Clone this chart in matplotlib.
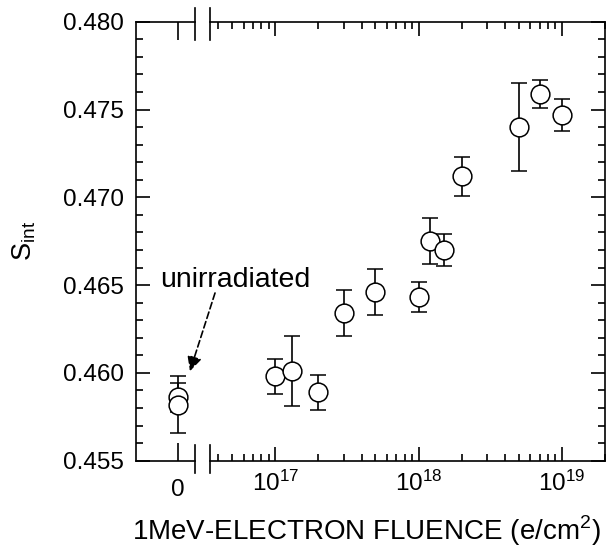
import numpy as np
import matplotlib
matplotlib.use('Agg')
import matplotlib.pyplot as plt
from matplotlib.ticker import FixedLocator, MultipleLocator, FormatStrFormatter, LogLocator, NullFormatter

plt.rcParams['font.family'] = ['Liberation Sans', 'DejaVu Sans']
plt.rcParams['mathtext.fontset'] = 'custom'
plt.rcParams['mathtext.rm'] = 'Liberation Sans'

# datos sin irradiar (fluencia 0)
fluencia_cero = [0, 0]
s_cero = [0.4586, 0.4582]
err_cero = [0.0008, 0.0016]

# datos irradiados (e/cm^2)
fluencia = [1e17, 1.3e17, 2e17, 3e17, 5e17, 1e18, 1.2e18, 1.5e18, 2e18, 5e18, 7e18, 1e19]
s_int = [0.4598, 0.4601, 0.4589, 0.4634, 0.4646, 0.4643, 0.4675, 0.4670, 0.4712, 0.4740, 0.4759, 0.4747]
err = [0.0010, 0.0020, 0.0010, 0.0013, 0.0013, 0.00085, 0.0013, 0.0009, 0.0011, 0.0025, 0.0008, 0.0009]

W, H = 616, 557
fig = plt.figure(figsize=(W/100, H/100), dpi=100)

top, bot = 21.7, 460.7
ax1 = fig.add_axes([136/W, 1-bot/H, (195-136)/W, (bot-top)/H])
ax2 = fig.add_axes([210/W, 1-bot/H, (605-210)/W, (bot-top)/H])
# el eje izquierdo arriba para que el texto no quede tapado
ax1.set_zorder(3)
ax1.patch.set_visible(False)

estilo = dict(fmt='o', ms=13.5, mfc='white', mec='black', mew=1.1, ecolor='black',
              elinewidth=1.2, capsize=5.5, capthick=1.2, color='black')
ax1.errorbar(fluencia_cero, s_cero, yerr=err_cero, **estilo)
ax2.errorbar(fluencia, s_int, yerr=err, **estilo)

ylo, yhi = 0.455, 0.480
for ax in (ax1, ax2):
    ax.set_ylim(ylo, yhi)
    ax.yaxis.set_major_locator(MultipleLocator(0.005))
    ax.yaxis.set_minor_locator(MultipleLocator(0.001))
    for s in ax.spines.values():
        s.set_linewidth(1.2)
    ax.tick_params(which='both', direction='in', width=1.2, top=True, bottom=True,
                   labelsize=17.5, colors='black')
    ax.tick_params(which='major', length=10)
    ax.tick_params(which='minor', length=5)

ax1.set_xlim(-1, 0.4)
ax1.xaxis.set_major_locator(FixedLocator([0]))
ax1.xaxis.set_minor_locator(FixedLocator([]))
ax1.spines['right'].set_visible(False)
ax1.tick_params(axis='y', which='both', left=True, right=False, pad=9)
ax1.tick_params(axis='x', which='major', length=13, pad=13)
ax1.yaxis.set_major_formatter(FormatStrFormatter('%.3f'))

ax2.set_xscale('log')
ax2.set_xlim(3.5e16, 2e19)
ax2.xaxis.set_major_locator(LogLocator(base=10, numticks=10))
ax2.xaxis.set_minor_locator(LogLocator(base=10, subs=np.arange(2, 10), numticks=20))
ax2.xaxis.set_minor_formatter(NullFormatter())
ax2.spines['left'].set_visible(False)
ax2.tick_params(axis='y', which='both', left=False, right=True, labelleft=False)
ax2.tick_params(axis='x', which='major', pad=7)

# marcas del corte del eje
for ax, xb in ((ax1, 1), (ax2, 0)):
    h = bot - top
    ax.plot([xb, xb], [1 + 13.5/h, 1 - 18/h], color='black', lw=1.2,
            transform=ax.transAxes, clip_on=False)
    ax.plot([xb, xb], [-12.5/h, 15.5/h], color='black', lw=1.2,
            transform=ax.transAxes, clip_on=False)

# texto y flecha
ax1.text(-0.43, 0.4649, 'unirradiated', fontsize=20.5, ha='left', va='baseline')
ax1.annotate('', xy=(0.28, 0.4601), xytext=(0.875, 0.46455),
             arrowprops=dict(arrowstyle='-|>', linestyle=(0, (4, 2)), color='black',
                             lw=1.2, mutation_scale=22, shrinkA=0, shrinkB=0),
             annotation_clip=False)

fig.text(24/W, 1-241/H, r'$\mathdefault{S_{int}}$', rotation=90, fontsize=19.5,
         ha='center', va='center')
fig.text(366/W, 1-531/H, r'1MeV-ELECTRON FLUENCE (e/cm$^{\mathdefault{2}}$)',
         fontsize=20, ha='center', va='center')

fig.savefig('out.png', dpi=100)
